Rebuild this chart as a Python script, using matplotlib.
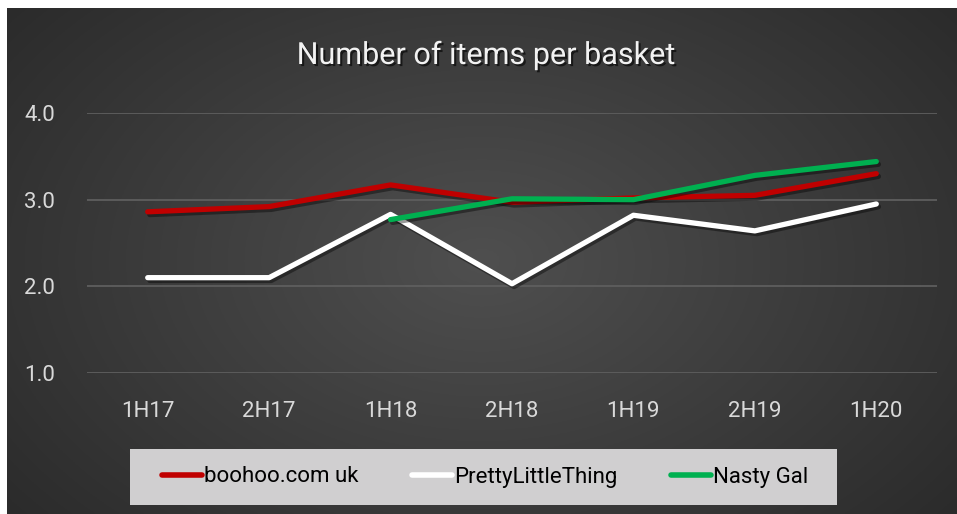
import numpy as np
import matplotlib
matplotlib.use("Agg")
import matplotlib.pyplot as plt
import matplotlib.patheffects as pe
from matplotlib.patches import Rectangle

periods = ["1H17", "2H17", "1H18", "2H18", "1H19", "2H19", "1H20"]
boohoo = [2.86, 2.92, 3.17, 2.97, 3.02, 3.05, 3.30]
plt_thing = [2.10, 2.10, 2.83, 2.03, 2.82, 2.64, 2.95]
nasty_gal = [None, None, 2.77, 3.01, 3.00, 3.28, 3.44]

plt.rcParams['font.family'] = ['Roboto', 'DejaVu Sans']

fig = plt.figure(figsize=(9.57, 5.14), dpi=100)
fig.patch.set_facecolor("white")

# dark radial gradient background
bg = fig.add_axes([7 / 957, 0, 950 / 957, 506 / 514])
yy, xx = np.mgrid[-1:1:300j, -1:1:560j]
r = np.sqrt(xx ** 2 + (yy * 0.8) ** 2)
shade = np.clip(0.31 - 0.11 * r, 0.165, 0.31)
bg.imshow(np.dstack([shade] * 3), aspect="auto", extent=[0, 1, 0, 1])
bg.set_axis_off()

ax = fig.add_axes([87 / 957, 1 - 373 / 514, 850 / 957, 260 / 514])
ax.set_facecolor("none")
x = np.arange(len(periods))

shadow = [pe.SimpleLineShadow(offset=(1.5, -2), shadow_color="black", alpha=0.4), pe.Normal()]
series = [("boohoo.com uk", boohoo, "#c00000"),
          ("PrettyLittleThing", plt_thing, "#ffffff"),
          ("Nasty Gal", nasty_gal, "#00b050")]
handles = []
for name, vals, col in series:
    v = np.array([np.nan if a is None else a for a in vals], dtype=float)
    ln, = ax.plot(x, v, color=col, lw=3.8, solid_capstyle="round",
                  solid_joinstyle="round", label=name, path_effects=shadow)
    handles.append(ln)

ax.set_xlim(-0.5, len(periods) - 0.5)
ax.set_ylim(1, 4)
ax.set_yticks([1, 2, 3, 4])
ax.set_yticklabels(["1.0", "2.0", "3.0", "4.0"])
ax.set_xticks(x)
ax.set_xticklabels(periods)
ax.tick_params(axis="both", length=0, labelsize=16, colors="#d9d9d9")
ax.tick_params(axis="y", pad=23)
ax.tick_params(axis="x", pad=20)
ax.grid(axis="y", color="#5e5e5e", lw=1.3)
ax.set_axisbelow(True)
for s in ax.spines.values():
    s.set_visible(False)

fig.text(486 / 957, 1 - 55 / 514, "Number of items per basket", ha="center", va="center",
         fontsize=22, color="#f2f2f2",
         path_effects=[pe.withSimplePatchShadow(offset=(1.5, -1.5), shadow_rgbFace="black", alpha=0.6)])

fig.patches.append(Rectangle((130 / 957, 9 / 514), 707 / 957, 56 / 514, transform=fig.transFigure,
                             facecolor="#d0cfd0", edgecolor="none", zorder=1))
leg = fig.legend(handles=handles, loc="center", bbox_to_anchor=(485 / 957, 37 / 514), ncol=3,
                 frameon=False, fontsize=16, handlelength=1.8, handletextpad=0.1,
                 columnspacing=2.4, labelcolor="black")
for h in leg.legend_handles:
    h.set_path_effects([])
    h.set_linewidth(4)

fig.savefig("out.png", dpi=100)
